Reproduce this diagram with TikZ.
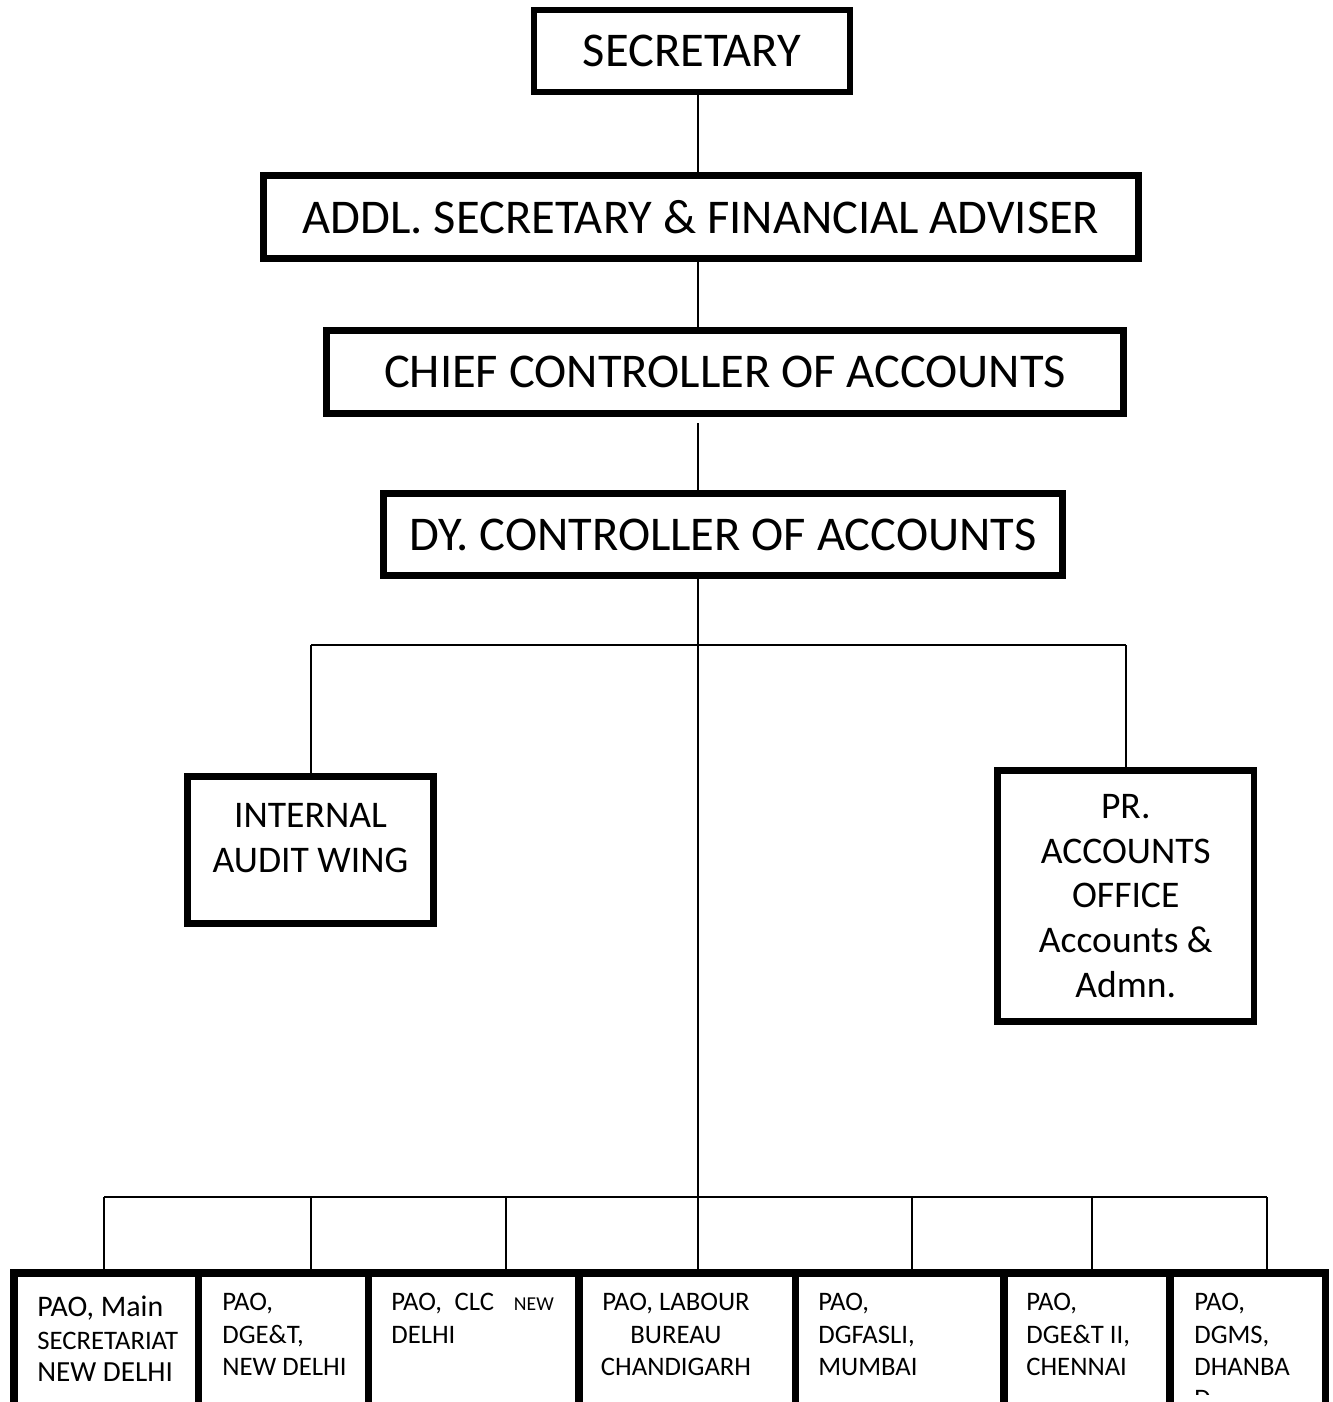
\documentclass[tikz,border=0pt]{standalone}
\usepackage{fontspec}
\setmainfont{Carlito}

\begin{document}
\begin{tikzpicture}[x=0.02cm,y=-0.02cm,
  post/.style={draw,line width=3.7pt,outer sep=0pt,inner sep=0pt},
  big/.style={font=\fontsize{27.6}{32}\selectfont},
  mid/.style={font=\fontsize{21.4}{25.5}\selectfont},
  pao/.style={post,line width=4.2pt,anchor=north west,minimum height=6cm},
  paotext/.style={anchor=north west,inner sep=0pt,align=left,font=\fontsize{15.2}{18.4}\selectfont},
  link/.style={line width=1.15pt}]
\useasboundingbox (0,0) rectangle (1332,1402);
\clip (0,0) rectangle (1332,1402);

% top chain
\node [post,big,minimum width=6.32cm,minimum height=1.64cm] (sec) at (692,51) {SECRETARY};
\node [post,big,minimum width=17.5cm,minimum height=1.66cm] (addl) at (701,217) {ADDL. SECRETARY \& FINANCIAL ADVISER};
\node [post,big,minimum width=15.94cm,minimum height=1.66cm] (chief) at (725,372) {CHIEF CONTROLLER OF ACCOUNTS};
\node [post,big,minimum width=13.58cm,minimum height=1.64cm] (dy) at (723,534.5) {DY. CONTROLLER OF ACCOUNTS};

\coordinate (trunk) at (698,645);
\coordinate (busl) at (311,645);
\coordinate (busr) at (1126,645);
\draw [link] (sec.south -| trunk) -- (addl.north -| trunk);
\draw [link] (addl.south -| trunk) -- (chief.north -| trunk);
\draw [link, shorten <=0.2cm] (chief.south -| trunk) -- (dy.north -| trunk);

% middle level
\node [post,minimum width=4.92cm,minimum height=2.94cm] (iaw) at (310.5,850) {};
\node [mid,inner sep=0pt,align=center,anchor=north] (iawtext) at ([yshift=-0.54cm]iaw.north) {INTERNAL\\AUDIT WING};
\node [post,mid,align=center,minimum width=5.13cm,minimum height=5.02cm] (pr) at (1125.75,896) {PR.\\ACCOUNTS\\OFFICE\\Accounts \&\\Admn.};
\draw [link] (busl) -- (busr);
\draw [link] (busl) -- (busl |- iaw.north);
\draw [link] (busr) -- (busr |- pr.north);

% pay and accounts offices
\node [pao,minimum width=3.69cm] (pao1) at (14,1273) {};
\node [pao,minimum width=3.4cm] (pao2) at (198.5,1273) {};
\node [pao,minimum width=4.21cm] (pao3) at (368.5,1273) {};
\node [pao,minimum width=4.33cm] (pao4) at (579,1273) {};
\node [pao,minimum width=4.17cm] (pao5) at (795.5,1273) {};
\node [pao,minimum width=3.32cm] (pao6) at (1004,1273) {};
\node [pao,minimum width=3.11cm] (pao7) at (1170,1273) {};

\node [paotext] (pao1t) at (37,1296) {{\fontsize{17}{18.4}\selectfont PAO, Main}\\{\fontsize{15.2}{18.4}\selectfont SECRETARIAT}\\{\fontsize{16.6}{18.4}\selectfont NEW DELHI}};
\node [paotext] (pao2t) at (222,1293) {PAO,\\DGE\&T,\\NEW DELHI};
\node [paotext] (pao3t) at (391,1293) {PAO,\hspace{0.25cm}CLC\hspace{0.4cm}{\fontsize{11.2}{18.4}\selectfont NEW}\\DELHI};
\node [paotext,align=center,anchor=north] (pao4t) at (676,1293) {PAO, LABOUR\\BUREAU\\CHANDIGARH};
\node [paotext] (pao5t) at (818,1293) {PAO,\\DGFASLI,\\MUMBAI};
\node [paotext] (pao6t) at (1026,1293) {PAO,\\DGE\&T II,\\CHENNAI};
\begin{scope}
\clip (1170,1273) rectangle (1326,1394);
\node [paotext] (pao7t) at (1194,1293) {PAO,\\DGMS,\\DHANBA\\D};
\end{scope}

\coordinate (d1) at (104,1197);
\coordinate (d2) at (311,1197);
\coordinate (d3) at (506,1197);
\coordinate (d5) at (912,1197);
\coordinate (d6) at (1092,1197);
\coordinate (d7) at (1267,1197);
\draw [link] (dy.south -| trunk) -- (trunk) -- (trunk |- pao4.north);
\draw [link] (d1) -- (d7);
\foreach \i in {1,2,3,5,6,7}
  \draw [link] (d\i) -- (d\i |- pao\i.north);
\end{tikzpicture}
\end{document}
